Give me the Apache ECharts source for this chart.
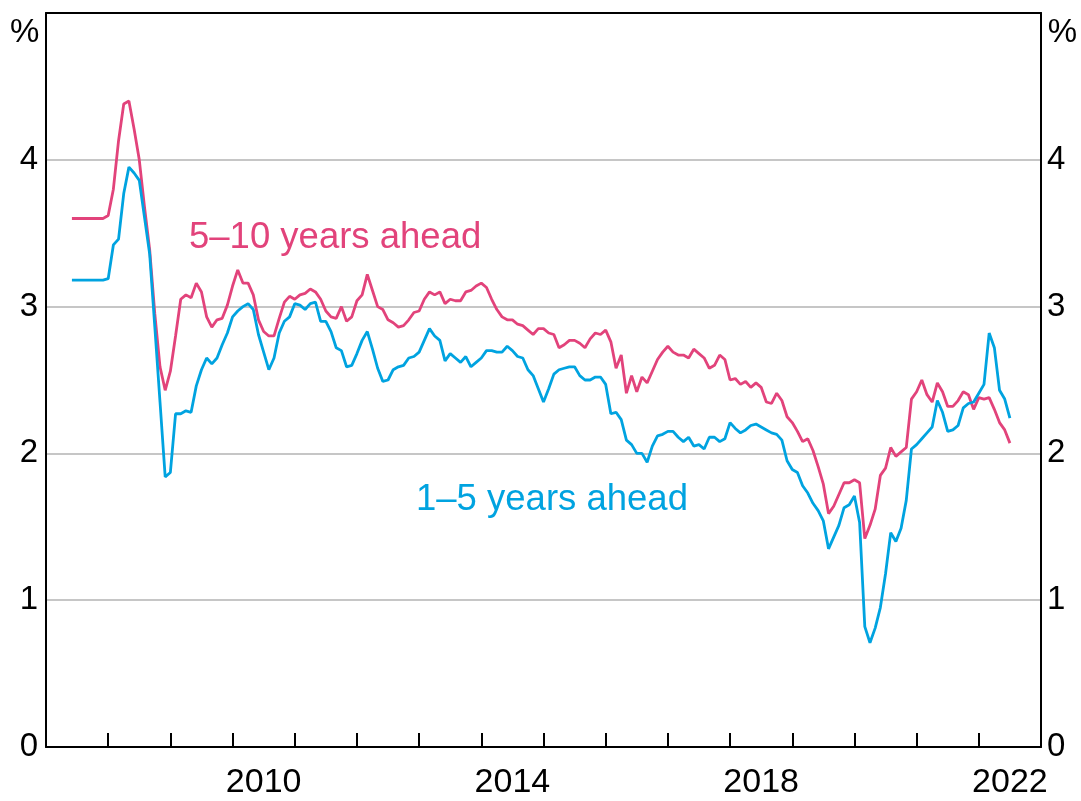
<!DOCTYPE html>
<html>
<head>
<meta charset="utf-8">
<script src="https://cdn.jsdelivr.net/npm/echarts@6/dist/echarts.min.js"></script>
<style>
  html, body { margin: 0; padding: 0; background: #fff; }
  #chart { width: 1081px; height: 801px; }
</style>
</head>
<body>
<div id="chart"></div>
<script>
// monthly observations, first one is June 2007
const startYear = 2007;
const startMonth = 5; // 0 = Jan

// 5-10 years ahead (%), one row per calendar year
const longTerm = [
  3.60, 3.60, 3.60, 3.60, 3.60, 3.60, 3.60,
  3.62, 3.80, 4.13, 4.38, 4.40, 4.21, 4.00, 3.68, 3.39, 2.95, 2.59, 2.43,
  2.56, 2.80, 3.05, 3.08, 3.06, 3.16, 3.10, 2.93, 2.86, 2.91, 2.92, 3.01,
  3.14, 3.25, 3.16, 3.16, 3.08, 2.91, 2.83, 2.80, 2.80, 2.92, 3.03, 3.07,
  3.05, 3.08, 3.09, 3.12, 3.10, 3.05, 2.97, 2.93, 2.92, 3.00, 2.90, 2.93,
  3.04, 3.08, 3.22, 3.11, 3.00, 2.98, 2.91, 2.89, 2.86, 2.87, 2.91, 2.96,
  2.97, 3.05, 3.10, 3.08, 3.10, 3.02, 3.05, 3.04, 3.04, 3.10, 3.11, 3.14,
  3.16, 3.13, 3.05, 2.98, 2.93, 2.91, 2.91, 2.88, 2.87, 2.84, 2.81, 2.85,
  2.85, 2.82, 2.81, 2.72, 2.74, 2.77, 2.77, 2.75, 2.72, 2.78, 2.82, 2.81,
  2.84, 2.76, 2.58, 2.67, 2.41, 2.53, 2.42, 2.52, 2.48, 2.56, 2.64, 2.69,
  2.73, 2.69, 2.67, 2.67, 2.65, 2.71, 2.68, 2.65, 2.58, 2.60, 2.67, 2.64,
  2.50, 2.51, 2.47, 2.49, 2.45, 2.48, 2.45, 2.35, 2.34, 2.41, 2.36, 2.25,
  2.21, 2.15, 2.08, 2.10, 2.02, 1.91, 1.79, 1.59, 1.64, 1.72, 1.80, 1.80,
  1.82, 1.80, 1.42, 1.51, 1.62, 1.85, 1.90, 2.04, 1.98, 2.01, 2.04, 2.37,
  2.42, 2.50, 2.40, 2.35, 2.48, 2.42, 2.32, 2.32, 2.36, 2.42, 2.40, 2.30,
  2.38, 2.37, 2.38, 2.30, 2.21, 2.16, 2.07
];

// 1-5 years ahead (%)
const shortTerm = [
  3.18, 3.18, 3.18, 3.18, 3.18, 3.18, 3.18,
  3.19, 3.42, 3.46, 3.77, 3.95, 3.91, 3.86, 3.61, 3.36, 2.86, 2.35, 1.84,
  1.87, 2.27, 2.27, 2.29, 2.28, 2.46, 2.57, 2.65, 2.61, 2.65, 2.74, 2.82,
  2.93, 2.97, 3.00, 3.02, 2.98, 2.81, 2.69, 2.57, 2.65, 2.82, 2.90, 2.93,
  3.02, 3.01, 2.98, 3.02, 3.03, 2.90, 2.90, 2.83, 2.72, 2.70, 2.59, 2.60,
  2.68, 2.77, 2.83, 2.71, 2.58, 2.49, 2.50, 2.57, 2.59, 2.60, 2.65, 2.66,
  2.69, 2.77, 2.85, 2.80, 2.77, 2.63, 2.68, 2.65, 2.62, 2.66, 2.59, 2.62,
  2.65, 2.70, 2.70, 2.69, 2.69, 2.73, 2.70, 2.66, 2.65, 2.57, 2.53, 2.44,
  2.35, 2.44, 2.54, 2.57, 2.58, 2.59, 2.59, 2.53, 2.50, 2.50, 2.52, 2.52,
  2.47, 2.27, 2.28, 2.23, 2.09, 2.06, 2.00, 2.00, 1.94, 2.05, 2.12, 2.13,
  2.15, 2.15, 2.11, 2.08, 2.11, 2.05, 2.06, 2.03, 2.11, 2.11, 2.08, 2.10,
  2.21, 2.17, 2.14, 2.16, 2.19, 2.20, 2.18, 2.16, 2.14, 2.13, 2.09, 1.95,
  1.89, 1.87, 1.78, 1.73, 1.66, 1.61, 1.54, 1.35, 1.43, 1.51, 1.63, 1.65,
  1.71, 1.53, 0.82, 0.71, 0.81, 0.95, 1.18, 1.46, 1.40, 1.49, 1.68, 2.03,
  2.06, 2.10, 2.14, 2.18, 2.36, 2.28, 2.15, 2.16, 2.19, 2.31, 2.34, 2.35,
  2.41, 2.47, 2.82, 2.72, 2.43, 2.37, 2.24
];

const yearLabels = [2010, 2014, 2018, 2022];
const seriesNames = ['5–10 years ahead', '1–5 years ahead'];

const pink = '#e2437b';
const blue = '#00a3e0';
const font = '"Liberation Sans", Arial, sans-serif';

function toPoints(values) {
  return values.map((v, i) => [startYear + (startMonth + i) / 12, v]);
}

const frameLine = { show: true, lineStyle: { color: '#000', width: 2 } };

const chart = echarts.init(document.getElementById('chart'), null, { renderer: 'canvas' });

chart.setOption({
  animation: false,
  backgroundColor: '#fff',
  grid: { left: 46, right: 40, top: 13, bottom: 54 },
  xAxis: [
    {
      type: 'value', min: 2007, max: 2023, interval: 1, position: 'bottom',
      axisLine: frameLine,
      axisTick: { show: true, inside: true, length: 14, lineStyle: { color: '#000', width: 2 } },
      axisLabel: { show: false },
      splitLine: { show: false }
    },
    {
      // labels sit in the middle of each year
      type: 'value', min: 2007, max: 2023, interval: 0.5, position: 'bottom',
      axisLine: { show: false },
      axisTick: { show: false },
      splitLine: { show: false },
      axisLabel: {
        show: true, margin: 19, color: '#000', fontSize: 34, fontFamily: font,
        formatter: (v) => {
          const y = Math.floor(v);
          return (v - y > 0.25 && yearLabels.includes(y)) ? String(y) : '';
        }
      }
    },
    {
      // top edge of the frame
      type: 'value', min: 2007, max: 2023, interval: 1, position: 'top',
      axisLine: frameLine, axisTick: { show: false }, axisLabel: { show: false },
      splitLine: { show: false }
    }
  ],
  yAxis: [
    {
      type: 'value', min: 0, max: 5, interval: 1, position: 'left',
      axisLine: frameLine, axisTick: { show: false },
      splitLine: { show: true, lineStyle: { color: '#b3b3b3', width: 1.5 } },
      axisLabel: {
        margin: 8, color: '#000', fontSize: 33, fontFamily: font,
        formatter: (v) => (v === 5 ? '' : String(v))
      }
    },
    {
      type: 'value', min: 0, max: 5, interval: 1, position: 'right',
      axisLine: frameLine, axisTick: { show: false },
      splitLine: { show: false },
      axisLabel: {
        margin: 6, color: '#000', fontSize: 33, fontFamily: font,
        formatter: (v) => (v === 5 ? '' : String(v))
      }
    }
  ],
  graphic: [
    { type: 'text', left: 10, top: 16, style: { text: '%', font: '33px ' + font, fill: '#000' } },
    { type: 'text', right: 4, top: 16, style: { text: '%', font: '33px ' + font, fill: '#000' } },
    {
      type: 'text', left: 189, top: 219,
      style: { text: seriesNames[0], font: '36.5px ' + font, fill: pink }
    },
    {
      type: 'text', left: 416, top: 481,
      style: { text: seriesNames[1], font: '36.5px ' + font, fill: blue }
    }
  ],
  series: [
    {
      name: seriesNames[0], type: 'line', xAxisIndex: 0, yAxisIndex: 0,
      data: toPoints(longTerm), showSymbol: false, z: 3,
      lineStyle: { color: pink, width: 2.8 }
    },
    {
      name: seriesNames[1], type: 'line', xAxisIndex: 0, yAxisIndex: 0,
      data: toPoints(shortTerm), showSymbol: false, z: 4,
      lineStyle: { color: blue, width: 2.8 }
    }
  ]
});
</script>
</body>
</html>
